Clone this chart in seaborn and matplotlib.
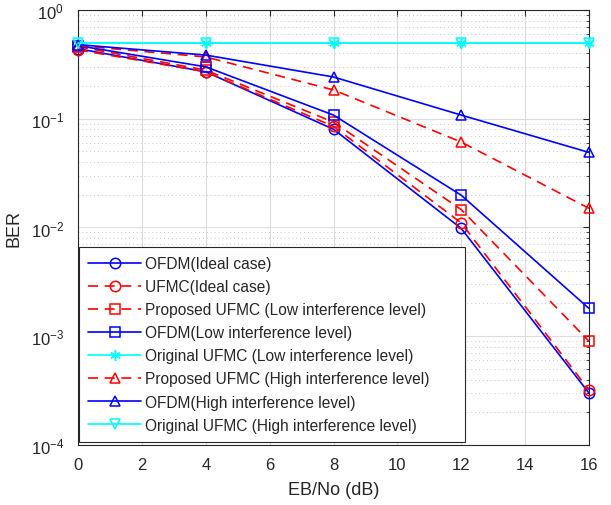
import numpy as np
import pandas as pd
import matplotlib
matplotlib.use("Agg")
import matplotlib.pyplot as plt
import seaborn as sns
from matplotlib.ticker import LogLocator, MultipleLocator

# data
ebno = [0, 4, 8, 12, 16]
ofdm_ideal = [0.44, 0.27, 0.080, 0.0098, 3.0e-4]
ufmc_ideal = [0.43, 0.27, 0.085, 0.011, 3.2e-4]
prop_low = [0.46, 0.28, 0.093, 0.0146, 9.0e-4]
ofdm_low = [0.47, 0.30, 0.108, 0.0198, 1.8e-3]
orig_low = [0.5, 0.5, 0.5, 0.5, 0.5]
prop_high = [0.47, 0.37, 0.184, 0.061, 0.015]
ofdm_high = [0.48, 0.385, 0.242, 0.108, 0.049]
orig_high = [0.5, 0.5, 0.5, 0.5, 0.5]

labels = [
    "OFDM(Ideal case)",
    "UFMC(Ideal case)",
    "Proposed UFMC (Low interference level)",
    "OFDM(Low interference level)",
    "Original UFMC (Low interference level)",
    "Proposed UFMC (High interference level)",
    "OFDM(High interference level)",
    "Original UFMC (High interference level)",
]
series = [ofdm_ideal, ufmc_ideal, prop_low, ofdm_low, orig_low, prop_high, ofdm_high, orig_high]
colors = ["#0000ff", "#ff0000", "#ff0000", "#0000ff", "#00ffff", "#ff0000", "#0000ff", "#00ffff"]
markers = ["o", "o", "s", "s", (6, 2, 0), "^", "^", "v"]
dashed = [False, True, True, False, False, True, False, False]

rows = []
for lab, vals in zip(labels, series):
    for x, v in zip(ebno, vals):
        rows.append({"series": lab, "EbNo": x, "BER": v})
df = pd.DataFrame(rows)

sns.set_style("white")
plt.rcParams["font.family"] = ["Liberation Sans", "DejaVu Sans"]

fig = plt.figure(figsize=(6.11, 5.06), dpi=100)
ax = fig.add_axes([0.1277, 0.1186, 0.8363, 0.8597])

for lab, c, m, d in zip(labels, colors, markers, dashed):
    sub = df[df["series"] == lab]
    sns.lineplot(data=sub, x="EbNo", y="BER", ax=ax, color=c, marker=m,
                 markersize=7.5, mfc="none", mec=c, mew=1.1, linewidth=1.2,
                 dashes=False, linestyle=(0, (6, 4)) if d else "-",
                 label=lab, sort=False, errorbar=None, clip_on=False, zorder=3)

ax.set_yscale("log")
ax.set_xlim(0, 16)
ax.set_ylim(1e-4, 1)
ax.xaxis.set_major_locator(MultipleLocator(2))
ax.yaxis.set_major_locator(LogLocator(base=10))
ax.yaxis.set_minor_locator(LogLocator(base=10, subs=np.arange(2, 10)))

ax.grid(True, which="major", color="#dcdcdc", linewidth=0.8, linestyle="-")
ax.grid(True, which="minor", axis="y", color="#c8c8c8", linewidth=0.7, linestyle=(0, (1, 3)))
ax.set_axisbelow(True)

for s in ax.spines.values():
    s.set_color("#262626")
    s.set_linewidth(0.8)
ax.tick_params(which="both", direction="in", top=True, right=True, colors="#262626",
               labelcolor="#262626", labelsize=12)
ax.tick_params(which="major", length=4)
ax.tick_params(which="minor", length=2)
ax.tick_params(axis="x", which="both", pad=9)
ax.tick_params(axis="y", which="both", pad=10)

ax.set_xlabel("EB/No (dB)", fontsize=13, color="#262626", labelpad=6)
ax.set_ylabel("BER", fontsize=13, color="#262626", labelpad=6)

leg = ax.legend(loc="lower left", bbox_to_anchor=(0.002, 0.007, 0.755, 0.3),
                mode="expand", fontsize=11.2, frameon=True, fancybox=False,
                edgecolor="#262626", framealpha=1, handlelength=3.4,
                handletextpad=0.25, labelspacing=0.52, borderaxespad=0,
                borderpad=0.6)
leg.get_frame().set_linewidth(0.8)
leg.set_zorder(5)

fig.savefig("out.png", dpi=100)
